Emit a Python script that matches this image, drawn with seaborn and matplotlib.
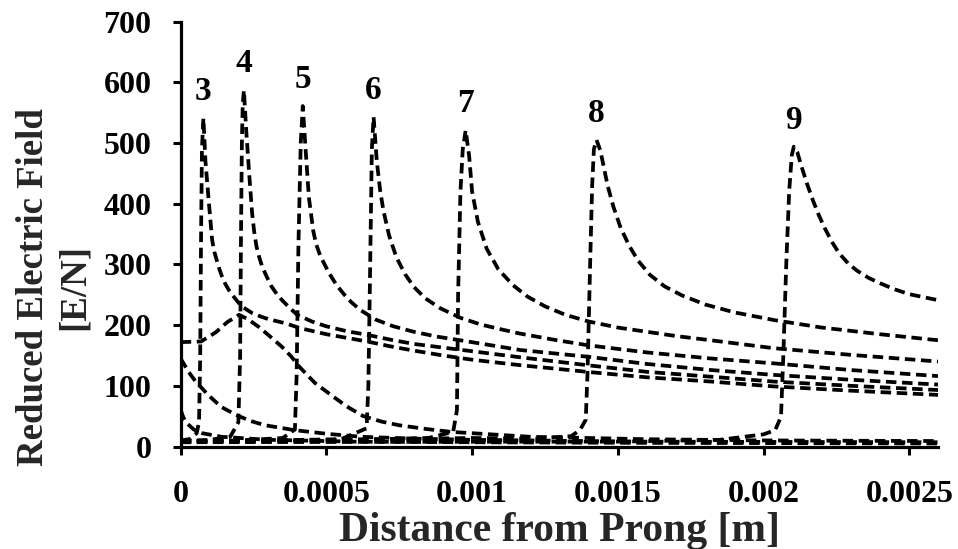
import matplotlib
matplotlib.use("Agg")
import matplotlib.pyplot as plt
import seaborn as sns
import pandas as pd

# Reduced electric field profiles along the gap, one per time step.
# Unlabelled early profiles near the prong
x_a = [0, 7.0e-5, 1.2e-4, 1.6e-4, 2.0e-4, 2.3e-4, 2.68e-4, 3.1e-4, 3.48e-4, 3.8e-4,
       4.08e-4, 4.6e-4, 5.24e-4, 5.7e-4, 6.27e-4, 6.9e-4, 7.5e-4, 8.4e-4, 9.3e-4, 1.2e-3,
       1.6e-3, 2.0e-3, 2.6e-3]
e_a = [172, 173, 188, 205, 217, 210, 197, 180, 164, 148,
       131, 105, 82, 66, 50, 41, 35, 29, 24, 16,
       12, 10, 9]

x_b = [0, 2.7e-5, 5.0e-5, 7.3e-5, 9.6e-5, 1.4e-4, 1.9e-4, 2.4e-4, 2.9e-4, 3.9e-4,
       5.0e-4, 6.2e-4, 8.0e-4, 1.0e-3, 1.6e-3, 2.6e-3]
e_b = [145, 123, 108, 96, 84, 65, 52, 42, 35, 27,
       21, 16, 13, 11, 8, 7]

x_c = [0, 1.0e-5, 2.2e-5, 4.5e-5, 7.3e-5, 1.4e-4, 3.0e-4, 6.0e-4, 1.0e-3, 1.6e-3, 2.6e-3]
e_c = [60, 47, 38, 28, 22, 16, 11, 8, 7, 6, 5]

# Labelled profiles 3..9 (low field behind the head, sharp peak, decaying tail)
x_3 = [0, 3.0e-5, 5.5e-5, 6.3e-5, 6.7e-5, 7.0e-5, 7.3e-5, 7.8e-5, 8.5e-5, 9.6e-5,
       1.08e-4, 1.16e-4, 1.25e-4, 1.33e-4, 1.42e-4, 1.53e-4, 1.65e-4, 1.85e-4, 2.05e-4, 2.25e-4,
       2.45e-4, 2.7e-4, 3.0e-4, 3.6e-4, 4.1e-4, 5.0e-4, 5.7e-4, 6.4e-4, 7.2e-4, 8.0e-4,
       9.0e-4, 1.0e-3, 1.165e-3, 1.395e-3, 1.6e-3, 1.82e-3, 2.035e-3, 2.3e-3, 2.6e-3]
e_3 = [10, 12, 22, 40, 150, 350, 490, 541, 470, 406,
       340, 320, 305, 292, 280, 268, 258, 245, 233, 226,
       220, 215, 210, 203, 195, 185, 179, 173, 165, 158,
       150, 143, 134, 123, 114, 107, 99, 92, 85]

x_4 = [0, 1.0e-4, 1.7e-4, 1.98e-4, 2.04e-4, 2.07e-4, 2.1e-4, 2.13e-4, 2.17e-4, 2.25e-4,
       2.35e-4, 2.45e-4, 2.52e-4, 2.6e-4, 2.7e-4, 2.8e-4, 2.95e-4, 3.1e-4, 3.3e-4, 3.48e-4,
       3.75e-4, 4.0e-4, 4.5e-4, 5.0e-4, 5.7e-4, 6.4e-4, 7.2e-4, 8.0e-4, 9.0e-4, 1.0e-3,
       1.165e-3, 1.395e-3, 1.6e-3, 1.82e-3, 2.035e-3, 2.3e-3, 2.6e-3]
e_4 = [9, 11, 16, 40, 150, 350, 500, 565, 587, 520,
       450, 385, 355, 330, 311, 296, 280, 265, 251, 241,
       228, 217, 206, 198, 190, 184, 176, 169, 163, 157,
       147, 134, 123, 115, 107, 100, 93]

x_5 = [0, 2.0e-4, 3.5e-4, 3.92e-4, 3.98e-4, 4.04e-4, 4.12e-4, 4.19e-4, 4.3e-4, 4.4e-4,
       4.55e-4, 4.65e-4, 4.8e-4, 5.1e-4, 5.35e-4, 5.6e-4, 5.85e-4, 6.16e-4, 6.7e-4, 7.3e-4,
       8.0e-4, 8.8e-4, 9.6e-4, 1.05e-3, 1.165e-3, 1.395e-3, 1.6e-3, 1.82e-3, 2.035e-3, 2.3e-3,
       2.6e-3]
e_5 = [8, 10, 14, 28, 120, 330, 500, 561, 480, 410,
       355, 333, 313, 285, 266, 251, 238, 225, 209, 198,
       189, 181, 175, 168, 159, 148, 136, 126, 118, 110,
       102]

x_6 = [0, 3.0e-4, 5.5e-4, 6.38e-4, 6.44e-4, 6.5e-4, 6.56e-4, 6.62e-4, 6.73e-4, 6.85e-4,
       6.96e-4, 7.15e-4, 7.4e-4, 7.7e-4, 8.0e-4, 8.4e-4, 8.9e-4, 9.6e-4, 1.03e-3, 1.1e-3,
       1.165e-3, 1.28e-3, 1.395e-3, 1.6e-3, 1.82e-3, 2.035e-3, 2.3e-3, 2.6e-3]
e_6 = [8, 10, 12, 30, 100, 290, 490, 543, 470, 420,
       388, 348, 312, 284, 263, 244, 228, 212, 201, 193,
       186, 176, 167, 155, 145, 137, 126, 116]

x_7 = [0, 5.0e-4, 8.5e-4, 9.35e-4, 9.48e-4, 9.52e-4, 9.6e-4, 9.68e-4, 9.78e-4, 9.9e-4,
       1.0e-3, 1.02e-3, 1.05e-3, 1.09e-3, 1.14e-3, 1.19e-3, 1.25e-3, 1.32e-3, 1.4e-3, 1.5e-3,
       1.6e-3, 1.7e-3, 1.82e-3, 2.035e-3, 2.3e-3, 2.6e-3]
e_7 = [8, 10, 14, 24, 60, 250, 420, 490, 521, 478,
       420, 370, 326, 292, 266, 247, 231, 217, 206, 196,
       189, 182, 175, 162, 151, 140]

x_8 = [0, 1.0e-3, 1.22e-3, 1.34e-3, 1.37e-3, 1.39e-3, 1.396e-3, 1.405e-3, 1.412e-3, 1.418e-3,
       1.427e-3, 1.44e-3, 1.45e-3, 1.465e-3, 1.485e-3, 1.51e-3, 1.54e-3, 1.57e-3, 1.61e-3, 1.66e-3,
       1.72e-3, 1.8e-3, 1.9e-3, 2.04e-3, 2.2e-3, 2.4e-3, 2.6e-3]
e_8 = [8, 14, 13, 17, 27, 44, 120, 300, 430, 490,
       505, 488, 465, 430, 395, 360, 330, 306, 283, 264,
       249, 234, 221, 208, 196, 185, 175]

x_9 = [0, 1.16e-3, 1.5e-3, 1.85e-3, 2.0e-3, 2.04e-3, 2.06e-3, 2.068e-3, 2.078e-3, 2.088e-3,
       2.097e-3, 2.104e-3, 2.116e-3, 2.13e-3, 2.15e-3, 2.17e-3, 2.19e-3, 2.21e-3, 2.235e-3, 2.26e-3,
       2.29e-3, 2.32e-3, 2.36e-3, 2.4e-3, 2.45e-3, 2.5e-3, 2.55e-3, 2.6e-3]
e_9 = [7, 8, 8, 11, 20, 27, 49, 150, 300, 420,
       480, 494, 485, 462, 432, 405, 381, 360, 337, 318,
       302, 290, 278, 269, 259, 251, 246, 241]

unlabelled = [(x_c, e_c), (x_b, e_b), (x_a, e_a)]
labelled = {"3": (x_3, e_3), "4": (x_4, e_4), "5": (x_5, e_5), "6": (x_6, e_6),
            "7": (x_7, e_7), "8": (x_8, e_8), "9": (x_9, e_9)}

x_ticks = [0, 0.0005, 0.001, 0.0015, 0.002, 0.0025]
x_tick_labels = ["0", "0.0005", "0.001", "0.0015", "0.002", "0.0025"]
y_ticks = [0, 100, 200, 300, 400, 500, 600, 700]

sns.set_theme(style="ticks")
plt.rcParams["font.family"] = ["Liberation Serif", "DejaVu Serif"]
plt.rcParams["font.weight"] = "bold"

fig = plt.figure(figsize=(9.58, 5.49), dpi=100)
ax = fig.add_axes([0.1886, 0.1867, 0.7909, 0.7738])

dash = (0, (2.8, 1.5))
line_kw = dict(color="black", linewidth=2.7, linestyle=dash, sort=False,
               estimator=None, ax=ax, legend=False)

for xs, es in unlabelled:
    df = pd.DataFrame({"x": xs, "E": es})
    sns.lineplot(data=df, x="x", y="E", **line_kw)

for name, (xs, es) in labelled.items():
    df = pd.DataFrame({"x": xs, "E": es})
    sns.lineplot(data=df, x="x", y="E", **line_kw)
    i_peak = es.index(max(es))
    ax.annotate(name, (xs[i_peak], es[i_peak]), xytext=(0, 19),
                textcoords="offset points", ha="center", va="center",
                fontsize=24, fontweight="bold", color="black")

ax.set_xlim(0, 0.0026)
ax.set_ylim(0, 700)
ax.set_xticks(x_ticks)
ax.set_xticklabels(x_tick_labels)
ax.set_yticks(y_ticks)

for side in ("top", "right"):
    ax.spines[side].set_visible(False)
for side in ("left", "bottom"):
    ax.spines[side].set_linewidth(2.3)
    ax.spines[side].set_color("black")

ax.tick_params(axis="both", direction="out", length=6, width=2.2, colors="black",
               labelsize=23)
ax.tick_params(axis="x", pad=18)
ax.tick_params(axis="y", pad=15)
for lab in ax.get_xticklabels() + ax.get_yticklabels():
    lab.set_fontweight("bold")

ax.set_xlabel("Distance from Prong [m]", fontsize=30, fontweight="bold", labelpad=2)
ax.set_ylabel("Reduced Electric Field\n[E/N]", fontsize=26.5, fontweight="bold",
              multialignment="center", linespacing=1.2)
ax.yaxis.set_label_coords(-0.118, 0.375)

fig.savefig("out.png", dpi=100, facecolor="white")
